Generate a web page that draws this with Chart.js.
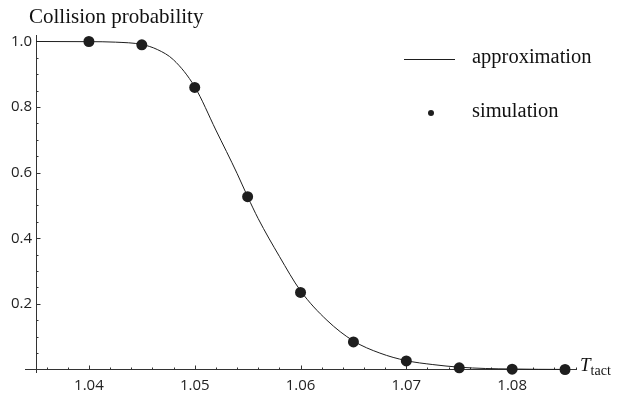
<!DOCTYPE html>
<html><head><meta charset="utf-8">
<script src="https://cdn.jsdelivr.net/npm/chart.js@4.4.0/dist/chart.umd.min.js"></script>
<style>html,body{margin:0;padding:0;background:#fff;}#wrap{width:620px;height:396px;position:relative;}</style>
</head><body><div id="wrap"><canvas id="c" width="620" height="396"></canvas></div>
<script>
// approximation curve
const curveX = [1.035, 1.040, 1.0425, 1.045, 1.0465, 1.048, 1.050, 1.052, 1.054, 1.055, 1.056, 1.058, 1.060, 1.0625, 1.065, 1.0675, 1.070, 1.0725, 1.075, 1.0775, 1.080, 1.0825, 1.085];
const curveY = [1.000, 0.9995, 0.998, 0.991, 0.975, 0.944, 0.862, 0.730, 0.598, 0.527, 0.460, 0.345, 0.240, 0.150, 0.087, 0.050, 0.027, 0.015, 0.007, 0.003, 0.0015, 0.0005, 0.0002];
// simulation points
const simX = [1.040, 1.045, 1.050, 1.055, 1.060, 1.065, 1.070, 1.075, 1.080, 1.085];
const simY = [1.000, 0.990, 0.860, 0.527, 0.235, 0.084, 0.026, 0.005, 0.001, 0.000];
// tick labels
const xTickValues = [1.04, 1.05, 1.06, 1.07, 1.08];
const yTickValues = [0.2, 0.4, 0.6, 0.8, 1.0];
const xMinorValues = [1.036, 1.038, 1.042, 1.044, 1.046, 1.048, 1.052, 1.054, 1.056, 1.058, 1.062, 1.064, 1.066, 1.068, 1.072, 1.074, 1.076, 1.078, 1.082, 1.084, 1.086];
const yMinorValues = [0.05, 0.1, 0.15, 0.25, 0.3, 0.35, 0.45, 0.5, 0.55, 0.65, 0.7, 0.75, 0.85, 0.9, 0.95];
const yTitle = 'Collision probability';
const seriesNames = ['approximation', 'simulation'];

const X_ORIGIN = 1.035;
const INK = '#1e1e1e';
const AXIS = '#333333';

const axesPlugin = {
  id: 'mmaAxes',
  beforeDatasetsDraw(chart) {
    const ctx = chart.ctx, xs = chart.scales.x, ys = chart.scales.y, a = chart.chartArea;
    const y0 = Math.round(ys.getPixelForValue(0)) + 0.5;
    const x0 = Math.round(xs.getPixelForValue(X_ORIGIN)) + 0.5;
    ctx.save();
    ctx.strokeStyle = AXIS; ctx.lineWidth = 1;
    ctx.beginPath();
    ctx.moveTo(a.left - 7, y0); ctx.lineTo(a.right, y0);
    ctx.moveTo(x0, a.top); ctx.lineTo(x0, a.bottom);
    // x ticks (inward / upward)
    xTickValues.forEach(v => { const p = Math.round(xs.getPixelForValue(v)) + 0.5; ctx.moveTo(p, y0); ctx.lineTo(p, y0 - 4); });
    xMinorValues.forEach(v => { const p = Math.round(xs.getPixelForValue(v)) + 0.5; ctx.moveTo(p, y0); ctx.lineTo(p, y0 - 2); });
    yTickValues.forEach(v => { const p = Math.round(ys.getPixelForValue(v)) + 0.5; ctx.moveTo(x0, p); ctx.lineTo(x0 + 4, p); });
    yMinorValues.forEach(v => { const p = Math.round(ys.getPixelForValue(v)) + 0.5; ctx.moveTo(x0, p); ctx.lineTo(x0 + 2, p); });
    ctx.stroke();
    ctx.restore();
  },
  afterDraw(chart) {
    const ctx = chart.ctx;
    ctx.save();
    ctx.fillStyle = '#111';
    ctx.textBaseline = 'alphabetic';
    ctx.textAlign = 'left';
    ctx.font = '21px "Liberation Serif"';
    ctx.fillText(yTitle, 29, 23);
    // legend
    ctx.font = '20.5px "Liberation Serif"';
    ctx.fillText(seriesNames[0], 472, 63);
    ctx.fillText(seriesNames[1], 472, 117);
    ctx.strokeStyle = INK; ctx.lineWidth = 1;
    ctx.beginPath(); ctx.moveTo(404, 59.5); ctx.lineTo(455, 59.5); ctx.stroke();
    ctx.fillStyle = INK;
    ctx.beginPath(); ctx.arc(431, 113, 3, 0, Math.PI * 2); ctx.fill();
    // x axis title T_tact
    ctx.fillStyle = '#111';
    ctx.font = 'italic 19px "Liberation Serif"';
    ctx.fillText('T', 580, 371);
    const tw = ctx.measureText('T').width;
    ctx.font = '14px "Liberation Serif"';
    ctx.fillText('tact', 580 + tw, 375);
    ctx.restore();
  }
};

new Chart(document.getElementById('c'), {
  data: {
    datasets: [
      {
        type: 'line',
        label: seriesNames[0],
        data: curveX.map((x, i) => ({ x: x, y: curveY[i] })),
        borderColor: INK,
        borderWidth: 1,
        pointRadius: 0,
        fill: false,
        cubicInterpolationMode: 'monotone',
        clip: false,
        order: 2
      },
      {
        type: 'scatter',
        label: seriesNames[1],
        data: simX.map((x, i) => ({ x: x, y: simY[i] })),
        backgroundColor: INK,
        borderColor: INK,
        pointRadius: 5.5,
        pointHoverRadius: 5.5,
        borderWidth: 0,
        clip: false,
        order: 1
      }
    ]
  },
  options: {
    responsive: false,
    animation: false,
    devicePixelRatio: 1,
    layout: { padding: { top: 35, right: 43, left: 0, bottom: 0 } },
    plugins: { legend: { display: false }, tooltip: { enabled: false }, title: { display: false } },
    scales: {
      x: {
        type: 'linear',
        position: 'bottom',
        min: 1.034622,
        max: 1.08613,
        border: { display: false },
        grid: { display: false, drawTicks: false },
        afterBuildTicks: s => { s.ticks = xTickValues.map(v => ({ value: v })); },
        afterFit: s => { s.height = 23; },
        ticks: {
          autoSkip: false, maxRotation: 0, padding: 4,
          color: '#222',
          font: { family: '"Open Sans"', size: 15 },
          callback: v => Number(v).toFixed(2)
        }
      },
      y: {
        type: 'linear',
        position: 'left',
        min: -0.0107,
        max: 1.0198,
        border: { display: false },
        grid: { display: false, drawTicks: false },
        afterBuildTicks: s => { s.ticks = yTickValues.map(v => ({ value: v })); },
        afterFit: s => { s.width = 32; },
        ticks: {
          autoSkip: false, padding: 0,
          color: '#222',
          font: { family: '"Open Sans"', size: 15 },
          callback: v => Number(v).toFixed(1)
        }
      }
    }
  },
  plugins: [axesPlugin]
});
</script>
</body></html>
